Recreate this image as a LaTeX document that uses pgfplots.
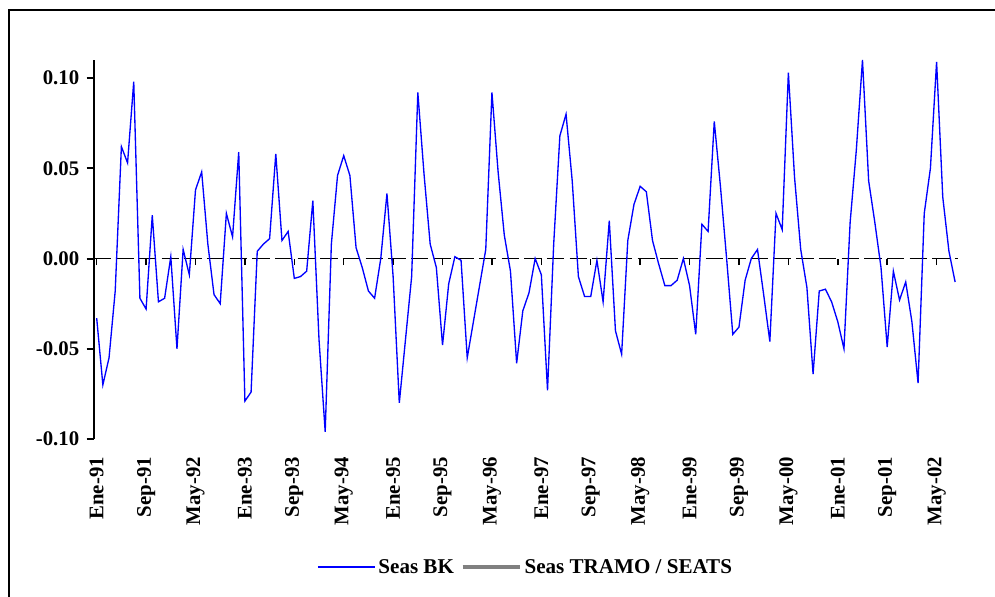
\documentclass[border=0pt]{standalone}
\usepackage{pgfplots}
\pgfplotsset{compat=1.18}
\usepackage{fontspec}
\setmainfont{Liberation Serif}
\definecolor{bkblue}{RGB}{0,0,255}
\definecolor{tsgray}{RGB}{128,128,128}
\pgfplotstableread{
idx val
0 -0.033
1 -0.070
2 -0.055
3 -0.018
4 0.062
5 0.053
6 0.098
7 -0.022
8 -0.028
9 0.024
10 -0.024
11 -0.022
12 0.001
13 -0.050
14 0.005
15 -0.009
16 0.038
17 0.048
18 0.008
19 -0.020
20 -0.025
21 0.025
22 0.012
23 0.059
24 -0.079
25 -0.074
26 0.004
27 0.008
28 0.011
29 0.058
30 0.010
31 0.015
32 -0.011
33 -0.010
34 -0.007
35 0.032
36 -0.045
37 -0.096
38 0.008
39 0.046
40 0.057
41 0.046
42 0.006
43 -0.005
44 -0.018
45 -0.022
46 0.000
47 0.036
48 -0.010
49 -0.080
50 -0.045
51 -0.010
52 0.092
53 0.047
54 0.008
55 -0.005
56 -0.048
57 -0.014
58 0.001
59 -0.001
60 -0.055
61 -0.035
62 -0.015
63 0.005
64 0.092
65 0.048
66 0.013
67 -0.007
68 -0.058
69 -0.029
70 -0.019
71 0.000
72 -0.009
73 -0.073
74 0.008
75 0.068
76 0.080
77 0.043
78 -0.010
79 -0.021
80 -0.021
81 -0.001
82 -0.024
83 0.021
84 -0.040
85 -0.053
86 0.010
87 0.030
88 0.040
89 0.037
90 0.010
91 -0.003
92 -0.015
93 -0.015
94 -0.012
95 0.000
96 -0.015
97 -0.042
98 0.019
99 0.015
100 0.076
101 0.040
102 0.000
103 -0.042
104 -0.038
105 -0.012
106 0.000
107 0.005
108 -0.020
109 -0.046
110 0.025
111 0.016
112 0.103
113 0.045
114 0.005
115 -0.016
116 -0.064
117 -0.018
118 -0.017
119 -0.024
120 -0.035
121 -0.050
122 0.020
123 0.060
124 0.110
125 0.043
126 0.020
127 -0.005
128 -0.049
129 -0.007
130 -0.023
131 -0.013
132 -0.035
133 -0.069
134 0.025
135 0.050
136 0.109
137 0.034
138 0.004
139 -0.013
}\bkdata
\begin{document}
\begin{tikzpicture}
\path[use as bounding box] (0pt,0pt) rectangle (746.25pt,447pt);
\clip (0pt,0pt) rectangle (746.25pt,447pt);
\fill[white] (0pt,0pt) rectangle (746.25pt,447pt);
\draw[line width=1.1pt] (6.75pt,439.5pt) -- (760pt,439.5pt) -- (760pt,-8pt) -- (6.75pt,-8pt) -- cycle;
% zero line with its ticks
\begin{axis}[at={(70.2pt,117.75pt)}, anchor=south west, scale only axis,
  width=648.45pt, height=284.25pt,
  xmin=-0.5, xmax=139.5, ymin=-0.10, ymax=0.11,
  axis x line*=middle, axis y line=none,
  x axis line style={line width=0.8pt, dash pattern=on 13pt off 4pt},
  xtick={0,8,...,136}, xticklabels={},
  xtick align=outside, major tick length=5pt,
  xtick style={line width=1.1pt, black, solid},
]
\addplot[draw=none, forget plot] coordinates {(0,0)};
\end{axis}
% main axis
\begin{axis}[at={(70.2pt,117.75pt)}, anchor=south west, scale only axis,
  width=648.45pt, height=284.25pt,
  xmin=-0.5, xmax=139.5, ymin=-0.10, ymax=0.11,
  axis y line*=left, axis x line*=bottom,
  x axis line style={draw=none},
  y axis line style={line width=1.5pt},
  xtick={0,8,...,136},
  xticklabels={Ene-91,Sep-91,May-92,Ene-93,Sep-93,May-94,Ene-95,Sep-95,May-96,Ene-97,Sep-97,May-98,Ene-99,Sep-99,May-00,Ene-01,Sep-01,May-02},
  xtick style={draw=none},
  xticklabel style={rotate=90, anchor=east, font=\fontsize{15.6}{18}\selectfont\bfseries},
  xticklabel shift=10pt,
  ytick={-0.10,-0.05,0,0.05,0.10},
  yticklabels={-0.10,-0.05,0.00,0.05,0.10},
  ytick align=outside, major tick length=5.25pt,
  ytick style={line width=1.5pt, black},
  yticklabel style={font=\fontsize{15.6}{18}\selectfont\bfseries},
  yticklabel shift=2pt,
  legend style={at={(0.5,-0.338)}, anchor=center, draw=none, fill=none,
    legend columns=2, font=\fontsize{15.8}{18}\selectfont\bfseries,
    /tikz/every even column/.append style={column sep=3pt}},
  legend image code/.code={\draw (0pt,0pt) -- (43pt,0pt);},
]
\addplot[bkblue, line width=1pt] table[x=idx, y=val] {\bkdata};
\addlegendentry{Seas BK}
\addlegendimage{tsgray, line width=3pt}
\addlegendentry{Seas TRAMO / SEATS}
\end{axis}
\end{tikzpicture}
\end{document}
